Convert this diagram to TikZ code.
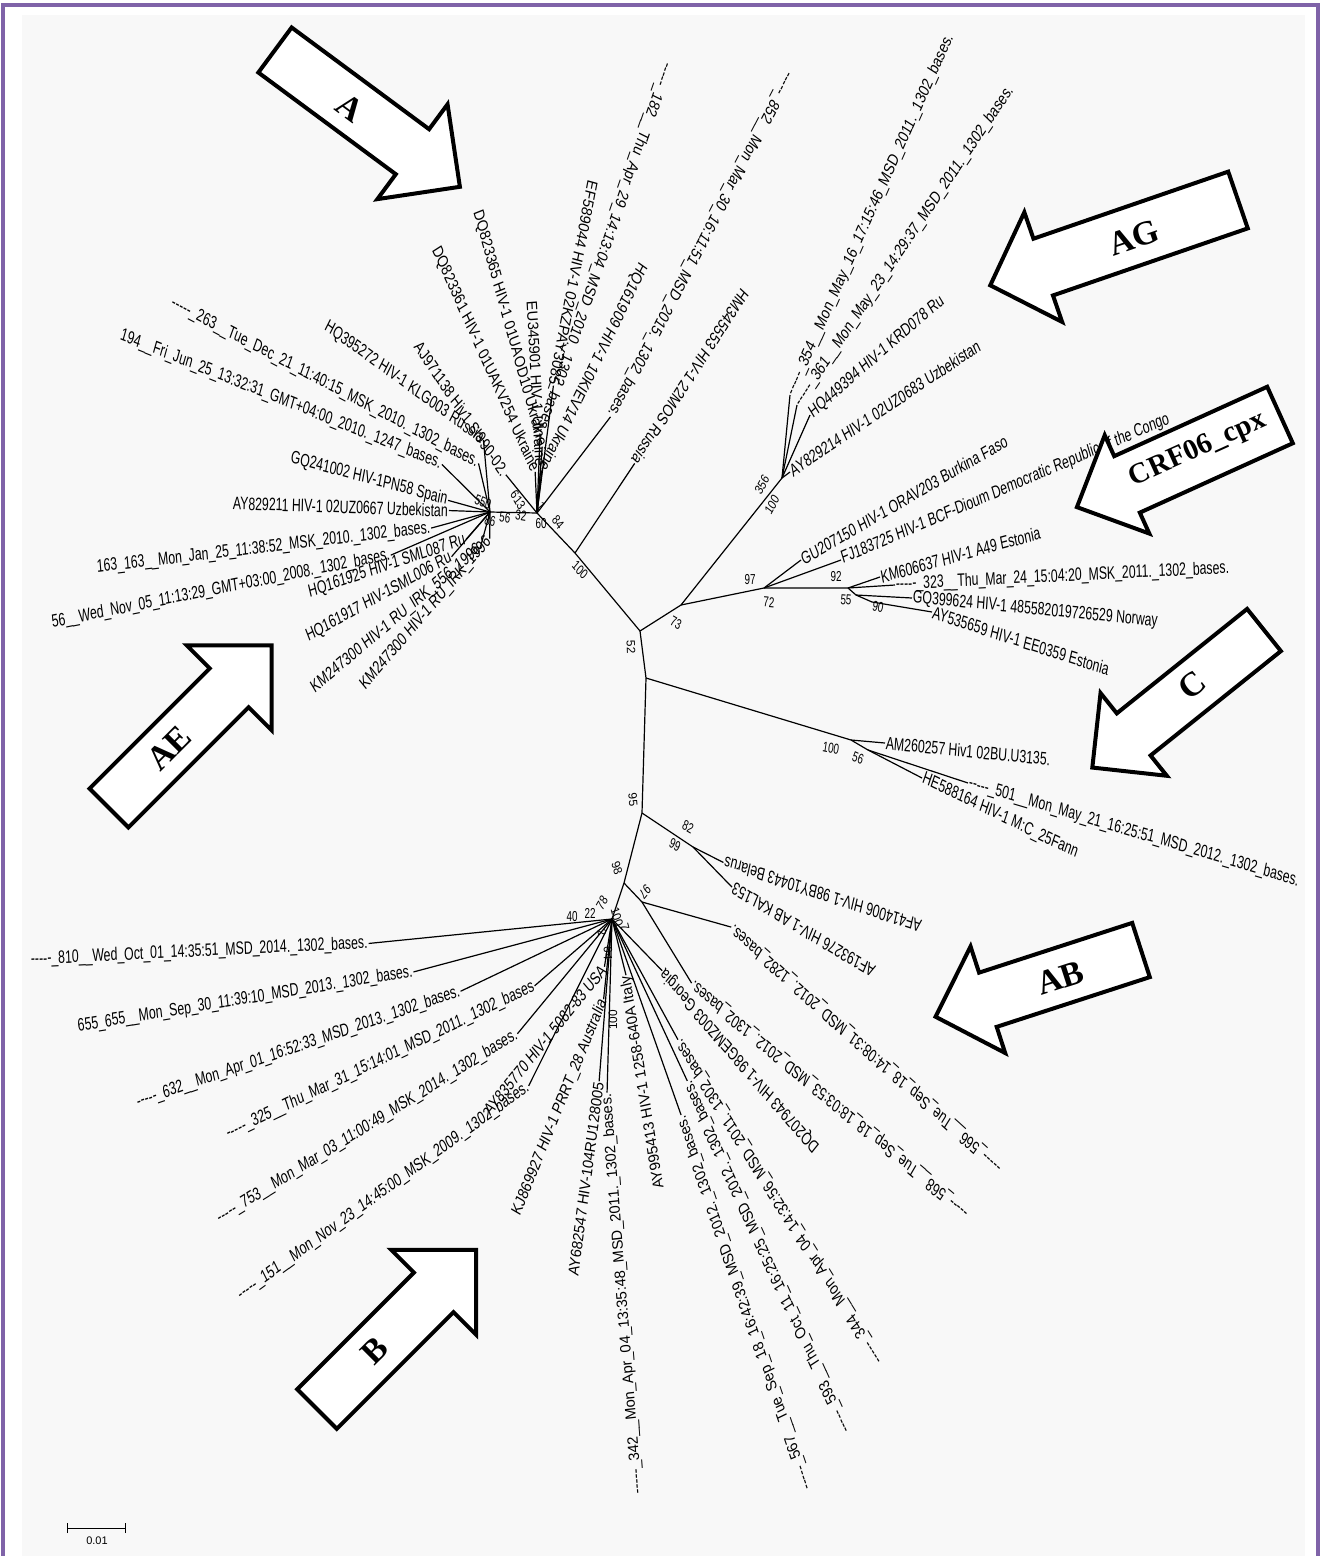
\documentclass[tikz,border=0pt]{standalone}
\usepackage{fontspec}
\setmainfont{Liberation Sans}
\newfontfamily\ArrFont{Liberation Serif}
\definecolor{frmcol}{RGB}{127,99,168}
\definecolor{paper}{RGB}{248,248,248}
\newcommand\Dsh{-{}-{}-{}-{}-}
\newcommand\KyS{1.2}
\newcommand\TreeLeaf[6]{%
  \pgfmathsetmacro\LfAng{atan2(sin(#3)/\KyS, cos(#3))}%
  \node[lbl, anchor=west, yscale=\KyS, rotate=\LfAng, xscale=0.82] (#1) at (#2) {#6};
  \draw[br] (#4) -- (#1.#5);}
\newcommand\BootS[4]{%
  \pgfmathsetmacro\LfAng{atan2(sin(#3)/\KyS, cos(#3))}%
  \node[bs, yscale=\KyS, rotate=\LfAng, xscale=0.82] (#1) at (#2) {#4};}
\newcommand\BlkArrow[7]{%
  \begin{scope}[shift={(#1,#2)}, rotate=#3]
    \draw[arrline] (0,-#5) -- ({#4-#7},-#5) -- ({#4-#7},-#6) -- (#4,0) -- ({#4-#7},#6) -- ({#4-#7},#5) -- (0,#5) -- cycle;
  \end{scope}}
\begin{document}
\begin{tikzpicture}[x=1pt,y=-1pt,
  lbl/.style={font=\fontsize{15}{15}\selectfont, inner sep=1pt},
  bs/.style={font=\fontsize{12}{12}\selectfont, inner sep=0pt},
  br/.style={line width=1.2pt},
  arrline/.style={draw=black, line width=4pt, fill=white, line join=miter},
  arrtxt/.style={font=\ArrFont\bfseries\fontsize{34}{34}\selectfont, inner sep=0pt}]
\useasboundingbox (0,0) rectangle (1322,1556);
\fill[white] (0,0) rectangle (1322,1556);
\fill[paper] (22,15) rectangle (1305,1556);
\draw[frmcol, line width=4pt] (3,1556) -- (3,5) -- (1318,5) -- (1318,1556);

% internal nodes
\coordinate (H1) at (537,513);
\coordinate (S1) at (490,512);
\coordinate (Nhm) at (575,553);
\coordinate (N52) at (640,631);
\coordinate (N73) at (681,605);
\coordinate (Nag) at (782,478);
\coordinate (N72) at (764,588);
\coordinate (N92) at (848,588);
\coordinate (N55) at (856,595);
\coordinate (N90) at (872,602);
\coordinate (Nc) at (646,678);
\coordinate (Nc100) at (851,740);
\coordinate (Nc56) at (868,750);
\coordinate (N95) at (642,813);
\coordinate (N82) at (693,847);
\coordinate (N98) at (624,883);
\coordinate (N97) at (642,902);
\coordinate (H3) at (612,919);

% backbone
\draw[br] (S1) -- (H1) -- (Nhm) -- (N52);
\draw[br] (N52) -- (N73) -- (Nag);
\draw[br] (N73) -- (N72) -- (N92) -- (N55) -- (N90);
\draw[br] (N52) -- (Nc) -- (N95) -- (N98) -- (H3);
\draw[br] (Nc) -- (Nc100) -- (Nc56);
\draw[br] (N95) -- (N82);
\draw[br] (N98) -- (N97);

% upper-left cluster
\TreeLeaf{l263}{171,302}{-27.7}{S1}{east}{\Dsh\_263\_\_Tue\_Dec\_21\_11:40:15\_MSK\_2010.\_1302\_bases.}
\TreeLeaf{l194}{120,335}{-21.9}{S1}{east}{194\_\_Fri\_Jun\_25\_13:32:31\_GMT+04:00\_2010.\_1247\_bases.}
\TreeLeaf{lHQa}{325,325}{-36}{S1}{east}{HQ395272 HIV-1 KLG003 Russia}
\TreeLeaf{lAJ}{417,343}{-56}{H1}{east}{AJ971138 Hiv1 SI990-02.}
\TreeLeaf{lDQa}{435,247}{-66}{H1}{east}{DQ823361 HIV-1 01UAKV254 Ukraine}
\TreeLeaf{lDQb}{477,210}{-74.6}{H1}{east}{DQ823365 HIV-1 01UAOD10 Ukraine}
\TreeLeaf{lEU}{532,300}{-87}{H1}{east}{EU345901 HIV-1 Ukraine}
\TreeLeaf{lEF}{593,180}{-100.9}{H1}{east}{EF589044 HIV-1 02KZPAY3085}
\TreeLeaf{l182}{668,62}{-109}{H1}{east}{\Dsh\_182\_\_Thu\_Apr\_29\_14:13:04\_MSD\_2010.\_1302\_bases.}
\TreeLeaf{lHQb}{643,263}{-116}{H1}{east}{HQ161909 HIV-1 10KIEV14 Ukraine}
\TreeLeaf{l852}{790,72}{-117.5}{H1}{east}{\Dsh\_852\_\_Mon\_Mar\_30\_16:11:51\_MSD\_2015.\_1302\_bases.}
\TreeLeaf{lHM}{746,290}{-122.7}{Nhm}{east}{HM345553 HIV-1 22MOS Russia}
\TreeLeaf{lGQa}{290,458}{-15}{S1}{east}{GQ241002 HIV-1PN58 Spain}
\TreeLeaf{lAYa}{232,503}{-2}{S1}{east}{AY829211 HIV-1 02UZ0667 Uzbekistan}
\TreeLeaf{l163}{96,568}{6.8}{S1}{east}{163\_163\_\_Mon\_Jan\_25\_11:38:52\_MSK\_2010.\_1302\_bases.}
\TreeLeaf{l56}{51,623}{11.3}{S1}{east}{56\_\_Wed\_Nov\_05\_11:13:29\_GMT+03:00\_2008.\_1302\_bases.}
\TreeLeaf{lHQc}{308,593}{18.7}{S1}{east}{HQ161925 HIV-1 SML087 Ru}
\TreeLeaf{lHQd}{306,638}{29.2}{S1}{east}{HQ161917 HIV-1SML006 Ru}
\TreeLeaf{lKMa}{312,690}{40.2}{S1}{east}{KM247300 HIV-1 RU\_IRK\_556\_1996}
\TreeLeaf{lKMb}{362,688}{49.5}{S1}{east}{KM247300 HIV-1 RU\_IRK\_1996}

% AG and right clade
\TreeLeaf{l354}{790,395}{66}{Nag}{west}{\Dsh\_354\_\_Mon\_May\_16\_17:15:46\_MSD\_2011.\_1302\_bases.}
\TreeLeaf{l361}{797,405}{56}{Nag}{west}{\Dsh\_361\_\_Mon\_May\_23\_14:29:37\_MSD\_2011.\_1302\_bases.}
\TreeLeaf{lHQe}{810,415}{41}{Nag}{west}{HQ449394 HIV-1 KRD078 Ru}
\TreeLeaf{lAYb}{790,472}{34}{Nag}{west}{AY829214 HIV-1 02UZ0683 Uzbekistan}
\TreeLeaf{lGU}{801,560}{30.3}{N72}{west}{GU207150 HIV-1 ORAV203 Burkina Faso}
\TreeLeaf{lFJ}{841,560}{23.3}{N72}{west}{FJ183725 HIV-1 BCF-Dioum Democratic Republic of the Congo}
\TreeLeaf{lKMc}{880,577}{15.5}{N92}{west}{KM606637 HIV-1 A49 Estonia}
\TreeLeaf{l323}{895,585}{2.8}{N92}{west}{\Dsh\_323\_\_Thu\_Mar\_24\_15:04:20\_MSK\_2011.\_1302\_bases.}
\TreeLeaf{lGQb}{912,598}{-5.6}{N55}{west}{GQ399624 HIV-1 485582019726529 Norway}
\TreeLeaf{lAYc}{932,612}{-18}{N90}{west}{AY535659 HIV-1 EE0359 Estonia}

% C clade
\TreeLeaf{lAM}{885,743}{-5.6}{Nc100}{west}{AM260257 Hiv1 02BU.U3135.}
\TreeLeaf{l501}{968,783}{-16.6}{Nc56}{west}{\Dsh\_501\_\_Mon\_May\_21\_16:25:51\_MSD\_2012.\_1302\_bases.}
\TreeLeaf{lHE}{922,778}{-26}{Nc56}{west}{HE588164 HIV-1 M:C\_25Fann}

% AB clade
\TreeLeaf{lAFa}{922,927}{162}{N82}{east}{AF414006 HIV-1 98BY10443 Belarus}
\TreeLeaf{lAFb}{875,973}{149}{N82}{east}{AF193276 HIV-1 AB KAL153}
\TreeLeaf{l566}{1001,1170}{138}{N97}{east}{\Dsh\_566\_\_Tue\_Sep\_18\_14:08:31\_MSD\_2012.\_1282\_bases.}
\TreeLeaf{l568}{968,1215}{140}{N97}{east}{\Dsh\_568\_\_Tue\_Sep\_18\_18:03:53\_MSD\_2012.\_1302\_bases.}

% B cluster
\TreeLeaf{l810}{30,960}{2.8}{H3}{east}{\Dsh\_810\_\_Wed\_Oct\_01\_14:35:51\_MSD\_2014.\_1302\_bases.}
\TreeLeaf{l655}{77,1027}{9.3}{H3}{east}{655\_655\_\_Mon\_Sep\_30\_11:39:10\_MSD\_2013.\_1302\_bases.}
\TreeLeaf{l632}{136,1103}{19}{H3}{east}{\Dsh\_632\_\_Mon\_Apr\_01\_16:52:33\_MSD\_2013.\_1302\_bases.}
\TreeLeaf{l325}{226,1135}{25.8}{H3}{east}{\Dsh\_325\_\_Thu\_Mar\_31\_15:14:01\_MSD\_2011.\_1302\_bases}
\TreeLeaf{l753}{217,1220}{31.8}{H3}{east}{\Dsh\_753\_\_Mon\_Mar\_03\_11:00:49\_MSK\_2014.\_1302\_bases.}
\TreeLeaf{l151}{238,1297}{36}{H3}{east}{\Dsh\_151\_\_Mon\_Nov\_23\_14:45:00\_MSK\_2009.\_1302\_bases.}
\TreeLeaf{lAYd}{486,1113}{51}{H3}{east}{AY835770 HIV-1 5082-83 USA}
\TreeLeaf{lKJ}{516,1215}{67.9}{H3}{east}{KJ869927 HIV-1 PRRT\_28 Australia}
\TreeLeaf{lAYe}{573,1277}{82.4}{H3}{east}{AY682547 HIV-104RU128005}
\TreeLeaf{l342}{638,1495}{94.4}{H3}{east}{\Dsh\_342\_\_Mon\_Apr\_04\_13:35:48\_MSD\_2011.\_1302\_bases.}
\TreeLeaf{lAYf}{660,1190}{99}{H3}{east}{AY995413 HIV-1 1258-640A Italy}
\TreeLeaf{l567}{808,1490}{108.7}{H3}{east}{\Dsh\_567\_\_Tue\_Sep\_18\_16:42:39\_MSD\_2012.\_1302\_bases.}
\TreeLeaf{l593}{847,1433}{114.4}{H3}{east}{\Dsh\_593\_\_Thu\_Oct\_11\_16:25:25\_MSD\_2012.\_1302\_bases.}
\TreeLeaf{l344}{880,1363}{122}{H3}{east}{\Dsh\_344\_\_Mon\_Apr\_04\_14:32:56\_MSD\_2011.\_1302\_bases.}
\TreeLeaf{lDQc}{818,1150}{131}{H3}{east}{DQ207943 HIV-1 98GEMZ003 Georgia}

% bootstrap values
\BootS{b84}{558,522}{-55}{84}
\BootS{b100a}{580,570}{-50}{100}
\BootS{b550}{483,502}{-25}{550}
\BootS{b613}{518,500}{-60}{613}
\BootS{b1}{541,506}{-60}{1}
\BootS{b86}{490,521}{-15}{86}
\BootS{b56a}{505,518}{-10}{56}
\BootS{b32}{521,516}{-10}{32}
\BootS{b60}{541,524}{0}{60}
\BootS{b52}{631,647}{-88}{52}
\BootS{b73}{676,623}{-30}{73}
\BootS{b100b}{772,505}{62}{100}
\BootS{b356}{762,485}{62}{356}
\BootS{b97a}{750,580}{0}{97}
\BootS{b72}{769,602}{-5}{72}
\BootS{b92}{836,577}{0}{92}
\BootS{b55}{846,600}{-5}{55}
\BootS{b90}{878,607}{-15}{90}
\BootS{b100c}{831,748}{-12}{100}
\BootS{b56b}{858,758}{-25}{56}
\BootS{b95}{633,800}{-85}{95}
\BootS{b82}{688,827}{-30}{82}
\BootS{b99}{675,845}{-30}{99}
\BootS{b98}{617,868}{-75}{98}
\BootS{b97b}{645,892}{-130}{97}
\BootS{b40}{572,917}{0}{40}
\BootS{b22}{590,913}{0}{22}
\BootS{b78}{602,903}{60}{78}
\BootS{b100d}{617,917}{-75}{100}
\BootS{b7}{625,927}{-75}{7}
\BootS{b2}{602,933}{-80}{2}
\BootS{b64}{608,953}{-90}{64}
\BootS{b100e}{613,1020}{90}{100}

% scale bar
\coordinate (sbA) at (67,1528);
\coordinate (sbB) at (125,1528);
\draw[line width=1pt] (sbA) -- (sbB);
\draw[line width=1pt] ([yshift=-5pt]sbA) -- ([yshift=5pt]sbA);
\draw[line width=1pt] ([yshift=-5pt]sbB) -- ([yshift=5pt]sbB);
\node[font=\fontsize{11}{11}\selectfont, inner sep=0pt] (sbl) at (97,1541) {0.01};

% block arrows
\BlkArrow{275}{50}{-36.5}{230}{28}{59}{59}
\node[arrtxt, rotate=-36.5] (tA) at (350,108) {A};
\BlkArrow{1238}{200}{199}{262}{30}{58}{56}
\node[arrtxt, rotate=19] (tAG) at (1134,238) {AG};
\BlkArrow{1280}{415}{204.4}{223}{31}{54}{55}
\node[arrtxt, rotate=24.4, font=\ArrFont\bfseries\fontsize{29}{29}\selectfont] (tCRF) at (1198,450) {CRF06\_cpx};
\BlkArrow{1264}{630}{218.7}{220}{27}{53}{53}
\node[arrtxt, rotate=38.7] (tC) at (1192,685) {C};
\BlkArrow{1141}{950}{198}{216}{28.5}{56}{55}
\node[arrtxt, rotate=18] (tAB) at (1060,978) {AB};
\BlkArrow{109}{808}{45}{230}{27.5}{60}{60}
\node[arrtxt, rotate=45] (tAE) at (169,748) {AE};
\BlkArrow{317}{1409}{45}{225}{28}{60}{60}
\node[arrtxt, rotate=45] (tB) at (375,1351) {B};
\end{tikzpicture}
\end{document}
